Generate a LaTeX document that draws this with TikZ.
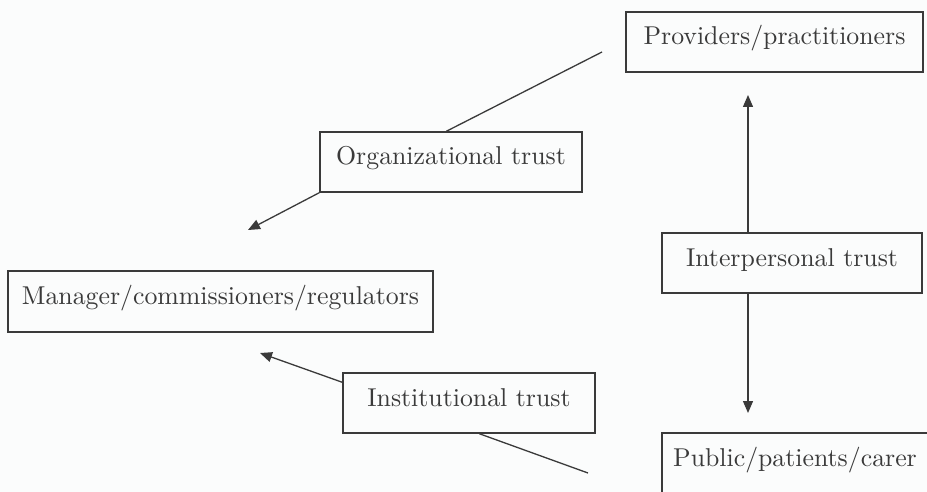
\documentclass[tikz,border=0pt]{standalone}
\usetikzlibrary{arrows.meta,calc}
\definecolor{ink}{HTML}{3A3A3A}
\definecolor{paper}{HTML}{FBFCFC}
% labels set at text size and enlarged, for a sturdier stroke
\newcommand{\biglabel}[1]{\scalebox{2.58}{\fontsize{10}{12}\selectfont #1}}
\begin{document}
\begin{tikzpicture}[x=1pt,y=-1pt,
  trustbox/.style={draw=ink, line width=1.4pt, inner xsep=0pt, inner ysep=0pt,
    text=ink, text height=33pt, text depth=27pt},
  link/.style={draw=ink, line width=1.3pt},
  arr/.style={link, -{Triangle[length=12pt,width=10pt]}}]
  \fill[paper] (0,0) rectangle (927,492);
  \useasboundingbox (0,0) rectangle (927,492);
  \clip (0,0) rectangle (927,492);

  % boxes
  \node[trustbox, minimum width=297pt] (prov) at (774.5,42) {\biglabel{Providers/practitioners}};
  \node[trustbox, minimum width=260pt] (inter) at (792,263) {\biglabel{Interpersonal trust}};
  \node[trustbox, minimum width=266pt] (pub) at (795,463) {\biglabel{Public/patients/carer}};
  \node[trustbox, minimum width=425pt, text depth=28pt] (mgr) at (220.5,301.5) {\biglabel{Manager/commissioners/regulators}};
  \node[trustbox, minimum width=262pt] (org) at (451,162) {\biglabel{Organizational trust}};
  \node[trustbox, minimum width=252pt] (inst) at (469,403) {\biglabel{Institutional trust}};

  % free ends of the connectors
  \coordinate (provend) at (602,52);
  \coordinate (mgrtop) at (248,230);
  \coordinate (mgrbot) at (260,353);
  \coordinate (pubend) at (588,473);
  \coordinate (provtip) at (748,95);
  \coordinate (pubtip) at (748,413);

  % organizational trust
  \draw[link] (provend) -- ($(org.north west)+(127,0)$);
  \draw[arr] (org.south west) -- (mgrtop);

  % institutional trust
  \draw[arr] ($(inst.north west)+(0,10)$) -- (mgrbot);
  \draw[link] ($(inst.south west)+(137,0)$) -- (pubend);

  % interpersonal trust
  \draw[arr] (inter.north -| provtip) -- (provtip);
  \draw[arr] (inter.south -| pubtip) -- (pubtip);
\end{tikzpicture}
\end{document}
